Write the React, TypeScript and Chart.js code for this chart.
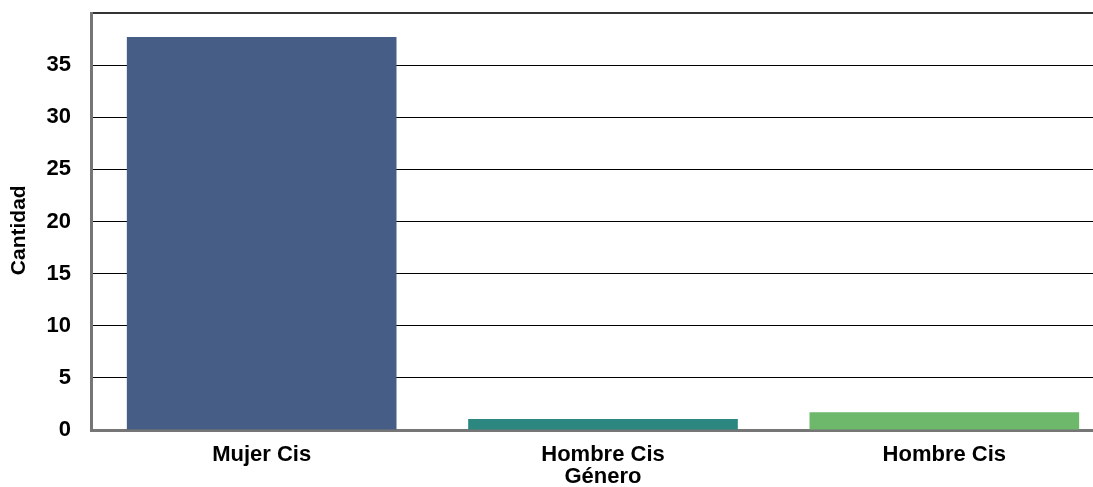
import React, { useEffect, useRef } from "react";
import { Chart, registerables } from "chart.js";

Chart.register(...registerables);

// Respondents by gender
const categories: string[] = ["Mujer Cis", "Hombre Cis", "Hombre Cis"];
const counts: number[] = [37.7, 1.05, 1.7];
const barColors: string[] = ["#465e86", "#2b877f", "#6db86b"];

const yMin = 0;
const yMax = 40;
const yStep = 5;
const yTitle = "Cantidad";
const xTitle = "Género";

const FONT = "'Liberation Sans', Arial, sans-serif";
const AXIS_GREY = "#767676";

export default function App() {
  const canvasRef = useRef<HTMLCanvasElement | null>(null);

  useEffect(() => {
    const canvas = canvasRef.current;
    if (!canvas) return;
    const chart = new Chart(canvas, {
      type: "bar",
      data: {
        labels: categories,
        datasets: [
          {
            data: counts,
            backgroundColor: barColors,
            borderWidth: 0,
            categoryPercentage: 1,
            barPercentage: 0.79,
          },
        ],
      },
      options: {
        animation: false,
        responsive: false,
        devicePixelRatio: 1,
        layout: { padding: { top: 13, right: 0, bottom: 0, left: 0 } },
        plugins: {
          legend: { display: false },
          tooltip: { enabled: false },
        },
        scales: {
          x: {
            z: 1,
            grid: { display: false, drawTicks: false },
            border: { display: true, color: AXIS_GREY, width: 3 },
            ticks: {
              color: "#000",
              maxRotation: 0,
              autoSkip: false,
              padding: 12,
              font: { family: FONT, size: 22, weight: "bold" },
            },
            title: {
              display: true,
              text: xTitle,
              color: "#000",
              padding: { top: 0, bottom: 0 },
              font: { family: FONT, size: 22, weight: "bold" },
            },
            afterFit: (scale: any) => {
              scale.height = 60;
              scale.paddingLeft = 0;
              scale.paddingRight = 0;
            },
          },
          y: {
            min: yMin,
            max: yMax,
            grid: {
              drawTicks: false,
              color: (ctx: any) => (ctx.tick && ctx.tick.value === yMax ? "#333" : "#000"),
              lineWidth: (ctx: any) => (ctx.tick && ctx.tick.value === yMax ? 2 : 1),
            },
            border: { display: true, color: AXIS_GREY, width: 3 },
            ticks: {
              stepSize: yStep,
              color: "#000",
              padding: 20,
              font: { family: FONT, size: 22, weight: "bold" },
              callback: (v: any) => (Number(v) === yMax ? "" : String(v)),
            },
            title: {
              display: true,
              // trailing spaces nudge the rotated title slightly downwards
              text: yTitle + "   ",
              color: "#000",
              padding: { top: 7, bottom: 0 },
              font: { family: FONT, size: 21, weight: "bold" },
            },
            afterFit: (scale: any) => {
              scale.width = 91;
              scale.paddingTop = 0;
              scale.paddingBottom = 0;
            },
          },
        },
      },
    });
    return () => chart.destroy();
  }, []);

  return (
    <div
      style={{
        position: "absolute",
        left: 0,
        top: 0,
        width: 1093,
        height: 487,
        overflow: "hidden",
        background: "#fff",
      }}
    >
      <canvas ref={canvasRef} width={1115} height={490} style={{ display: "block" }} />
    </div>
  );
}
